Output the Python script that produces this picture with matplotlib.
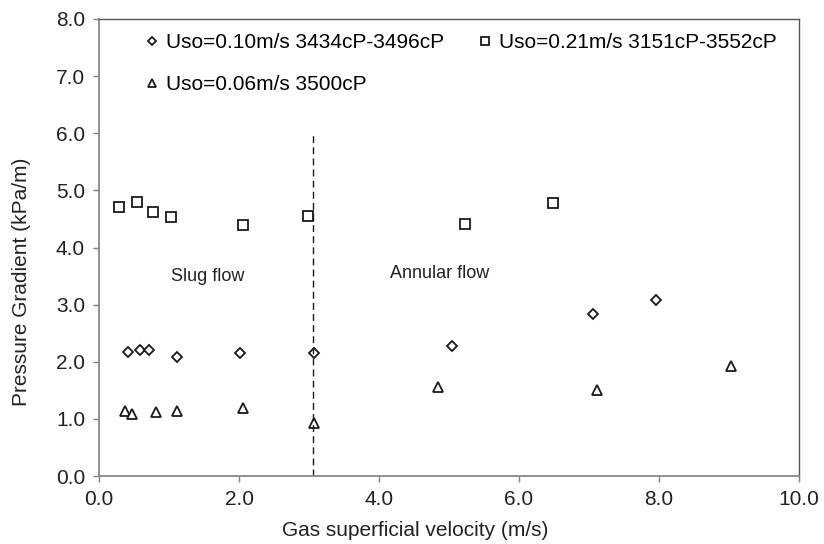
import numpy as np
import matplotlib
matplotlib.use("Agg")
import matplotlib.pyplot as plt

plt.rcParams['font.family'] = ['Liberation Sans', 'DejaVu Sans']

# Uso = 0.10 m/s, 3434-3496 cP
vsg_010 = [0.42, 0.58, 0.72, 1.12, 2.02, 3.07, 5.04, 7.06, 7.96]
dpdx_010 = [2.17, 2.21, 2.20, 2.09, 2.15, 2.15, 2.28, 2.84, 3.08]

# Uso = 0.21 m/s, 3151-3552 cP
vsg_021 = [0.29, 0.54, 0.77, 1.03, 2.06, 2.99, 5.23, 6.48]
dpdx_021 = [4.71, 4.80, 4.63, 4.53, 4.40, 4.56, 4.41, 4.78]

# Uso = 0.06 m/s, 3500 cP
vsg_006 = [0.37, 0.47, 0.81, 1.11, 2.05, 3.07, 4.84, 7.12, 9.03]
dpdx_006 = [1.14, 1.08, 1.12, 1.14, 1.19, 0.93, 1.56, 1.50, 1.92]

# slug / annular transition
transition_vsg = 3.06
transition_top = 6.0

fig = plt.figure(figsize=(8.24, 5.44), dpi=100)
ax = fig.add_axes([99 / 824, 68 / 544, 700 / 824, 457 / 544])

mk = dict(linestyle='none', markerfacecolor='white', markeredgecolor='#1a1a1a',
          markeredgewidth=1.3)
ax.plot(vsg_010, dpdx_010, marker='D', markersize=5, label='Uso=0.10m/s 3434cP-3496cP', **mk)
ax.plot(vsg_006, dpdx_006, marker='^', markersize=7.5, label='Uso=0.06m/s 3500cP', **mk)
ax.plot(vsg_021, dpdx_021, marker='s', markersize=7.5, label='Uso=0.21m/s 3151cP-3552cP', **mk)

ax.plot([transition_vsg, transition_vsg], [0, transition_top], color='#1a1a1a',
        linewidth=1.0, linestyle=(0, (5, 3)))

ax.text(1.03, 3.5, 'Slug flow', fontsize=13, va='center', ha='left', color='#222222')
ax.text(4.16, 3.54, 'Annular flow', fontsize=13, va='center', ha='left', color='#222222')

ax.set_xlim(0, 10)
ax.set_ylim(0, 8)
ax.set_xticks(np.arange(0, 10.1, 2))
ax.set_yticks(np.arange(0, 8.1, 1))
ax.xaxis.set_major_formatter(matplotlib.ticker.FormatStrFormatter('%.1f'))
ax.yaxis.set_major_formatter(matplotlib.ticker.FormatStrFormatter('%.1f'))
ax.tick_params(direction='out', length=4, width=1, color='#808080',
               labelsize=15, labelcolor='#222222', pad=6)

for side in ['left', 'bottom']:
    ax.spines[side].set_color('#888888')
    ax.spines[side].set_linewidth(1.3)
for side in ['top', 'right']:
    ax.spines[side].set_color('#555555')
    ax.spines[side].set_linewidth(1.0)

fig.text(415 / 824, 1 - 530 / 544, 'Gas superficial velocity (m/s)', fontsize=15,
         ha='center', va='center', color='#222222')
fig.text(22 / 824, 1 - 282 / 544, 'Pressure Gradient (kPa/m)', fontsize=15,
         rotation=90, ha='center', va='center', color='#222222')

ax.legend(loc='upper left', bbox_to_anchor=(0.067, 0.969), ncol=2, frameon=False,
          fontsize=15, markerscale=0.75, handlelength=0.6, handletextpad=0.35,
          columnspacing=1.7, labelspacing=1.1, borderpad=0, borderaxespad=0)

fig.savefig('out.png', dpi=100)
